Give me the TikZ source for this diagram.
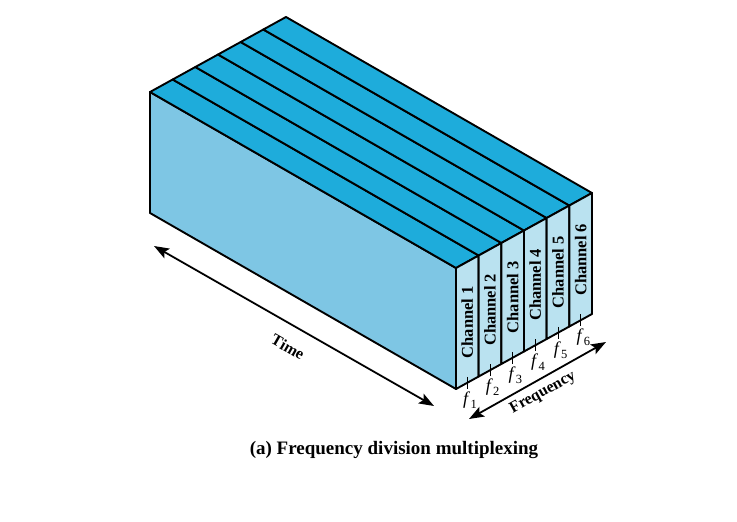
\documentclass[tikz,border=0pt]{standalone}
\usepackage{fontspec}
\setmainfont{Liberation Serif}
\usetikzlibrary{arrows.meta}
\definecolor{topblue}{RGB}{30,172,219}
\definecolor{sideblue}{RGB}{126,198,228}
\definecolor{frontblue}{RGB}{186,226,240}
\tikzset{
  edge/.style={draw=black,line width=1.9pt,line join=round},
  chlabel/.style={rotate=90,font=\bfseries\fontsize{16.5}{16.5}\selectfont,inner sep=0pt},
  flabel/.style={font=\fontsize{18}{18}\selectfont,inner sep=0pt},
  axislabel/.style={font=\bfseries\fontsize{16}{16}\selectfont,inner sep=0pt},
  dimarrow/.style={line width=1.8pt,{Stealth[length=15pt,width=11pt,inset=3pt]}-{Stealth[length=15pt,width=11pt,inset=3pt]}},
  tick/.style={line width=1pt}
}
\begin{document}
\begin{tikzpicture}[x=1pt,y=-1pt]
\useasboundingbox (0,0) rectangle (737,522);
% left face
\coordinate (LB) at (150,213);
\coordinate (B0) at (150,92);
\coordinate (C0) at (456,268);
\coordinate (D0) at (456,389);
\filldraw[fill=sideblue,edge] (B0) -- (C0) -- (D0) -- (LB) -- cycle;
% channel slabs
\foreach \k in {0,...,5}{
  \coordinate (b\k) at ({150+22.667*\k},{92-12.5*\k});
  \coordinate (bb\k) at ({150+22.667*(\k+1)},{92-12.5*(\k+1)});
  \coordinate (c\k) at ({456+22.667*\k},{268-12.5*\k});
  \coordinate (cc\k) at ({456+22.667*(\k+1)},{268-12.5*(\k+1)});
  \coordinate (d\k) at ({456+22.667*\k},{389-12.5*\k});
  \coordinate (dd\k) at ({456+22.667*(\k+1)},{389-12.5*(\k+1)});
  \filldraw[fill=topblue,edge] (b\k) -- (bb\k) -- (cc\k) -- (c\k) -- cycle;
  \filldraw[fill=frontblue,edge] (c\k) -- (cc\k) -- (dd\k) -- (d\k) -- cycle;
}
% channel labels
\foreach \k/\n in {0/1,1/2,2/3,3/4,4/5,5/6}{
  \node[chlabel] (ch\n) at ({467.33+22.667*\k},{322.25-12.5*\k}) {Channel \n};
  \coordinate (ta\n) at ({467.33+22.667*\k},{376.75-12.5*\k});
  \coordinate (tb\n) at ({467.33+22.667*\k},{388.75-12.5*\k});
  \draw[tick] (ta\n) -- (tb\n);
  \node[flabel] (f\n) at ({470+22.667*\k},{400-12.5*\k}) {\textit{f}\kern0.3pt\raisebox{-4pt}{\fontsize{12.5}{12.5}\selectfont\n}};
}
% time arrow
\coordinate (tstart) at (154,246);
\coordinate (tend) at (434,406);
\draw[dimarrow] (tstart) -- (tend);
\node[axislabel,rotate=-29.9] (time) at (288,347) {Time};
% frequency arrow
\coordinate (fstart) at (469,419);
\coordinate (fend) at (606,342);
\draw[dimarrow] (fstart) -- (fend);
\node[axislabel,rotate=29] (freq) at (543,393) {Frequency};
% caption
\node[font=\bfseries\fontsize{19}{19}\selectfont,inner sep=0pt] (cap) at (394,450) {(a) Frequency division multiplexing};
\end{tikzpicture}
\end{document}
